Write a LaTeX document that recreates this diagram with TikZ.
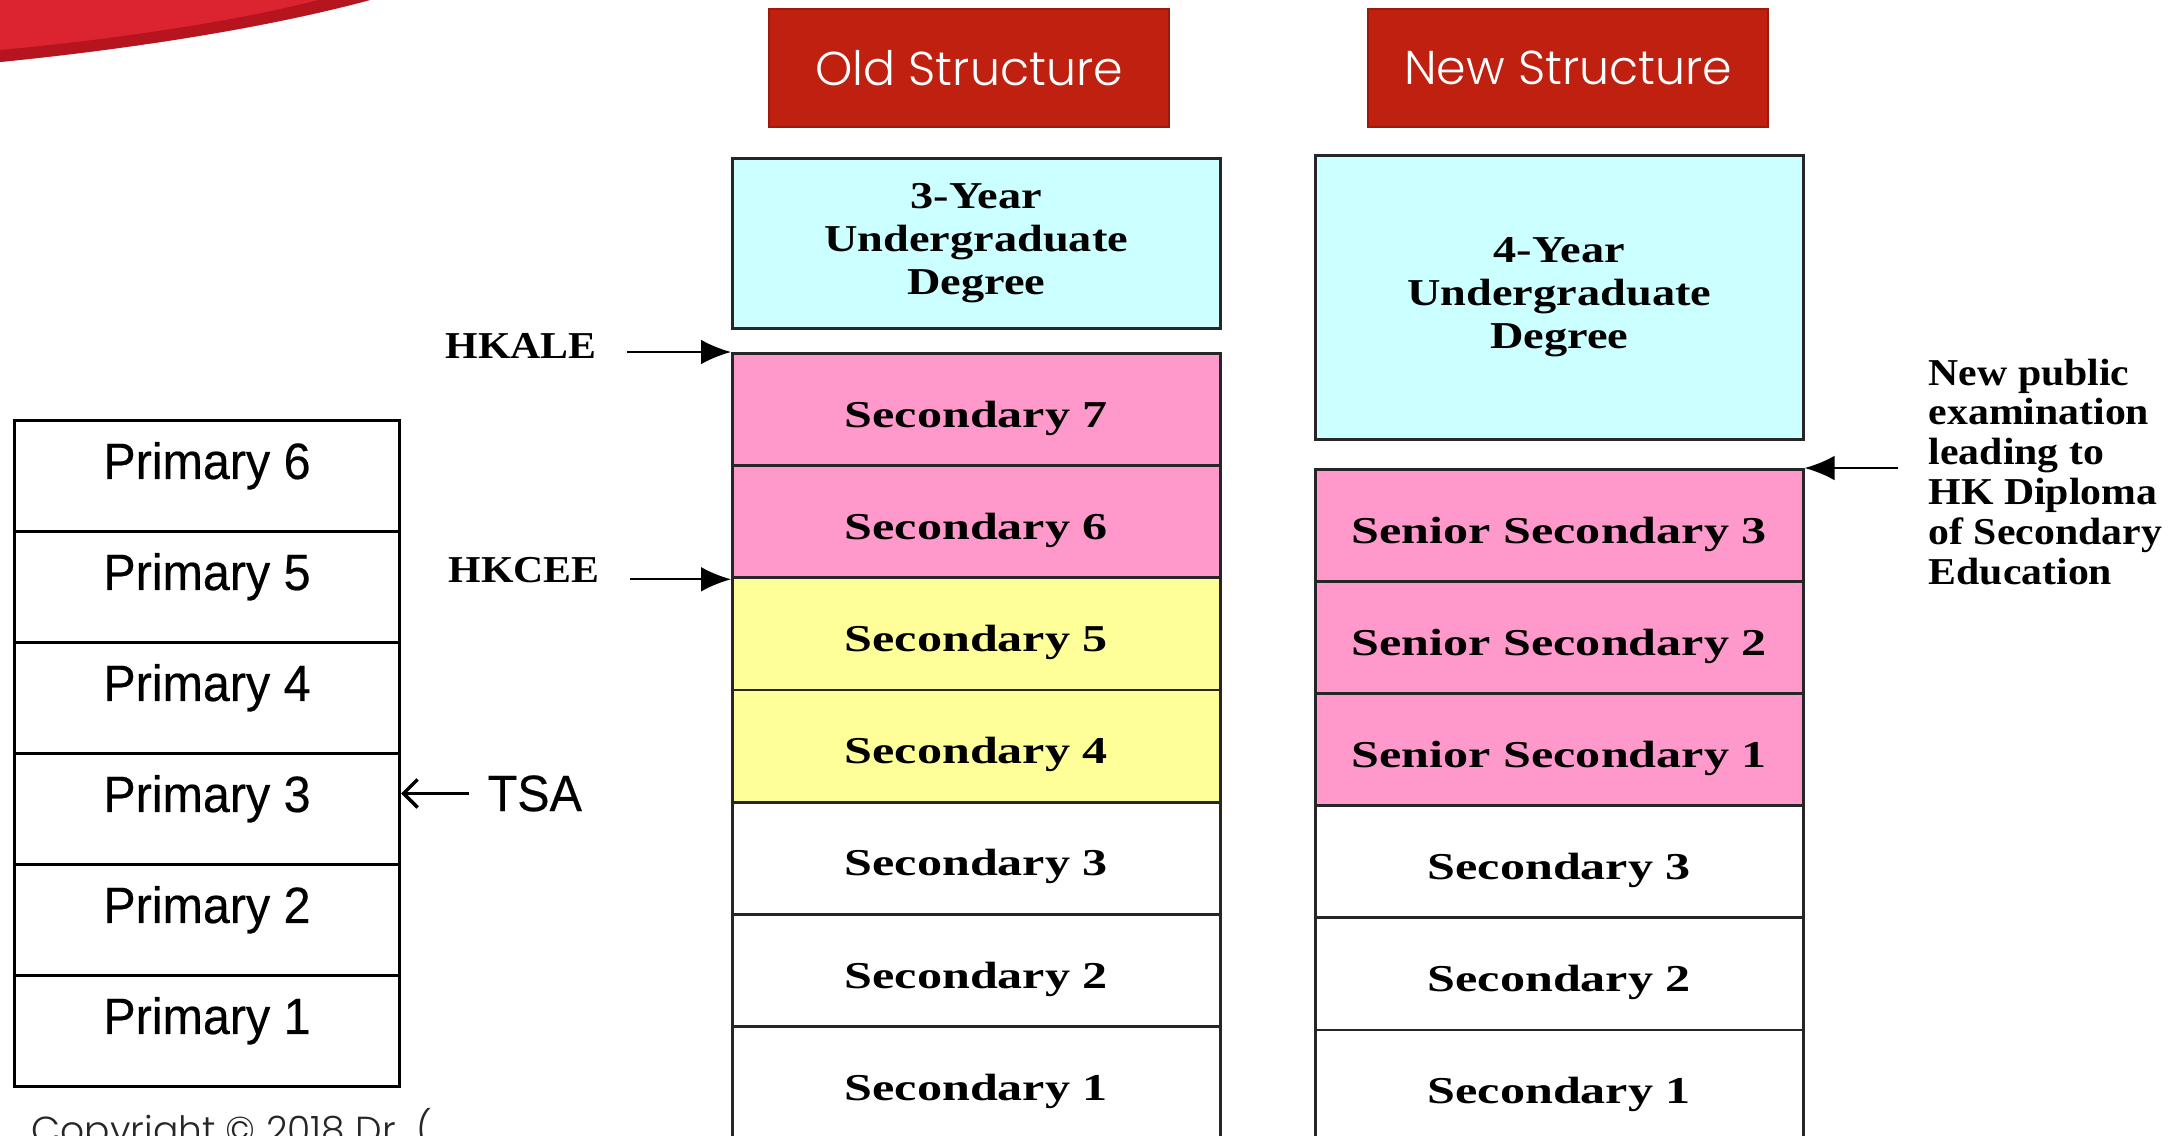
\documentclass[tikz,border=0pt]{standalone}
\usepackage{fontspec}
\usepackage{tikz}
\usetikzlibrary{arrows.meta}
\newfontfamily\headfont{Poppins Light}
\newfontfamily\primfont[FakeStretch=0.95,FakeBold=0.4]{Liberation Sans}
\newfontfamily\cellfont[FakeStretch=1.32]{Liberation Serif}
\newfontfamily\degfont[FakeStretch=1.22]{Liberation Serif}
\newfontfamily\notefont[FakeStretch=1.1]{Liberation Serif}
\definecolor{headred}{HTML}{C0200F}
\definecolor{headedge}{HTML}{9E1A0C}
\definecolor{cellcyan}{HTML}{CCFFFF}
\definecolor{cellpink}{HTML}{FF99CC}
\definecolor{cellyellow}{HTML}{FFFF99}
\definecolor{swooshred}{HTML}{DC2430}
\definecolor{swooshdark}{HTML}{9E0B14}

\begin{document}
\begin{tikzpicture}[x=0.01cm, y=-0.01cm,
    header/.style={fill=headred, draw=headedge, line width=0.6pt, text=white, anchor=north west,
        minimum width=4.0cm, minimum height=1.18cm, inner sep=0pt, font=\headfont\fontsize{13.5}{16}\selectfont},
    degbox/.style={fill=cellcyan, draw=black!85, line width=0.8pt, anchor=north west, minimum width=4.875cm,
        inner sep=0pt, align=center, font=\degfont\bfseries\fontsize{10.8}{12.2}\selectfont},
    cell/.style={draw=black!85, line width=0.8pt, anchor=north west, minimum width=4.875cm, minimum height=1.122cm,
        inner sep=0pt, text height=4.5mm, text depth=1mm, font=\cellfont\bfseries\fontsize{10.8}{12.2}\selectfont},
    primcell/.style={draw=black, line width=0.8pt, anchor=north west, minimum width=3.85cm, minimum height=1.11cm,
        inner sep=0pt, text height=3.5mm, text depth=2.9mm, font=\primfont\fontsize{14.5}{17}\selectfont},
    note/.style={inner sep=0pt, font=\notefont\bfseries\fontsize{10.8}{11.35}\selectfont},
    ptr/.style={-{Latex[length=8.5pt,width=7pt]}, line width=0.6pt},
    tsaptr/.style={-{Straight Barb[length=4pt,width=8pt]}, line width=1pt}]

    \useasboundingbox (0,0) rectangle (2181,1135);
    \clip (0,0) rectangle (2181,1135);

    % Red swoosh in the corner
    \fill[swooshred] (0,0) -- (370,0) .. controls (258,30) and (120,50) .. (0,62) -- cycle;
    \fill[swooshdark, opacity=0.6] (370,0) .. controls (258,30) and (120,50) .. (0,62) -- (0,50) .. controls (130,38) and (250,18) .. (318,0) -- cycle;

    % Headers
    \node[header] (oldhead) at (768,8) {Old Structure};
    \node[header] (newhead) at (1367,8) {New Structure};

    % Degree boxes
    \node[degbox, minimum height=1.70cm] (olddeg) at (731,157) {3-Year\\Undergraduate\\Degree};
    \node[degbox, minimum height=2.84cm] (newdeg) at (1314,154) {4-Year\\Undergraduate\\Degree};

    % Old structure: secondary years
    \foreach \i/\lbl/\col in {0/Secondary 7/cellpink, 1/Secondary 6/cellpink, 2/Secondary 5/cellyellow,
        3/Secondary 4/cellyellow, 4/Secondary 3/white, 5/Secondary 2/white, 6/Secondary 1/white} {
        \node[cell, fill=\col] (old\i) at (731,{352+112.2*\i}) {\lbl};
    }

    % New structure: secondary years
    \foreach \i/\lbl/\col in {0/Senior Secondary 3/cellpink, 1/Senior Secondary 2/cellpink, 2/Senior Secondary 1/cellpink,
        3/Secondary 3/white, 4/Secondary 2/white, 5/Secondary 1/white} {
        \node[cell, fill=\col] (new\i) at (1314,{468+112.1*\i}) {\lbl};
    }

    % Primary years
    \foreach \i/\n in {0/6, 1/5, 2/4, 3/3, 4/2, 5/1} {
        \node[primcell] (prim\n) at (13,{419+111*\i}) {Primary \n};
    }

    % Exam labels
    \node[note, anchor=base west] (hkale) at (445,358) {HKALE};
    \draw[ptr] ([xshift=0.3cm]hkale.east |- old0.north west) -- (old0.north west);
    \node[note, anchor=base west] (hkcee) at (448,582) {HKCEE};
    \draw[ptr] ([xshift=0.3cm]hkcee.east |- old1.south west) -- (old1.south west);

    \node[note, anchor=north west, align=left] (newexam) at (1928,358)
        {New public\\examination\\leading to\\HK Diploma\\of Secondary\\Education};
    \draw[ptr] ([xshift=-0.3cm]newexam.west |- new0.north east) -- (new0.north east);

    % TSA
    \node[inner sep=0pt, anchor=base west, font=\primfont\fontsize{14.5}{17}\selectfont] (tsa) at (487,811) {TSA};
    \draw[tsaptr] ([xshift=-0.18cm]tsa.west) -- (tsa.west -| prim3.east);

    % Footer
    \node[inner sep=0pt, anchor=base west, font=\headfont\fontsize{10.7}{12}\selectfont, text=black!85] (copy) at (31,1143)
        {Copyright © 2018 Dr. (};
\end{tikzpicture}
\end{document}
